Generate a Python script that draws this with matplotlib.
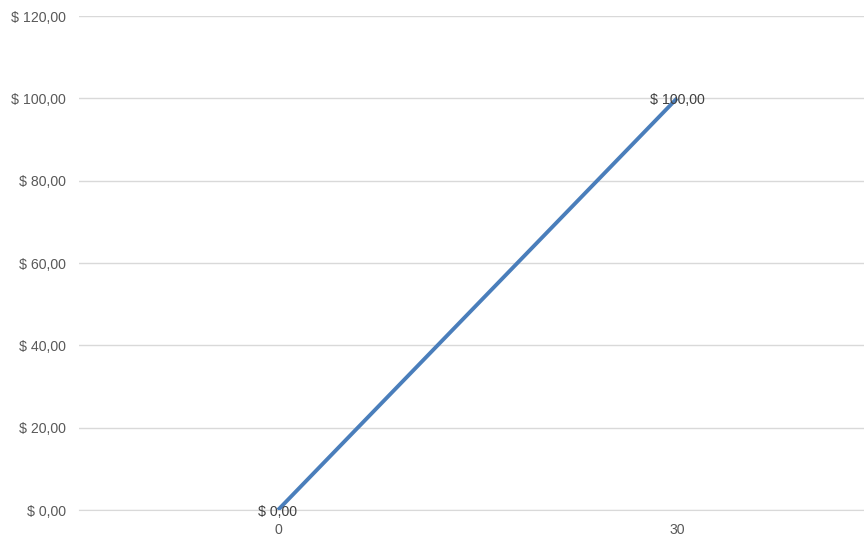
import matplotlib.pyplot as plt
from matplotlib.ticker import FuncFormatter

categories = ['0', '30']
values = [0, 100]
yticks = [0, 20, 40, 60, 80, 100, 120]

plt.rcParams['font.family'] = ['Liberation Sans', 'DejaVu Sans']
text_color = '#595959'
grid_color = '#d9d9d9'


def money(v, pos=None):
    return '$ ' + f'{v:.2f}'.replace('.', ',')


fig = plt.figure(figsize=(8.64, 5.36), dpi=100)
ax = fig.add_axes([79 / 864, 1 - 510 / 536, 1 - 79 / 864, (510 - 16) / 536])

x = list(range(len(categories)))
ax.plot(x, values, color='#4a7ebb', linewidth=2.8, solid_capstyle='butt', zorder=3)
for xi, v in zip(x, values):
    ax.text(xi, v, money(v), ha='center', va='center_baseline', fontsize=10.2,
            color='#404040', zorder=4)

ax.set_ylim(0, 120)
ax.set_yticks(yticks)
ax.yaxis.set_major_formatter(FuncFormatter(money))
ax.set_xlim(-(278 - 79) / 399, 1 + (864 - 677) / 399)
ax.set_xticks(x)
ax.set_xticklabels(categories)

ax.grid(axis='y', color=grid_color, linewidth=1)
ax.set_axisbelow(True)
for side in ['top', 'right', 'left']:
    ax.spines[side].set_visible(False)
ax.spines['bottom'].set_color(grid_color)
ax.tick_params(axis='both', length=0, labelsize=10.2, labelcolor=text_color)
ax.tick_params(axis='y', pad=9.4)
ax.tick_params(axis='x', pad=9)

fig.savefig('out.png', dpi=100)
